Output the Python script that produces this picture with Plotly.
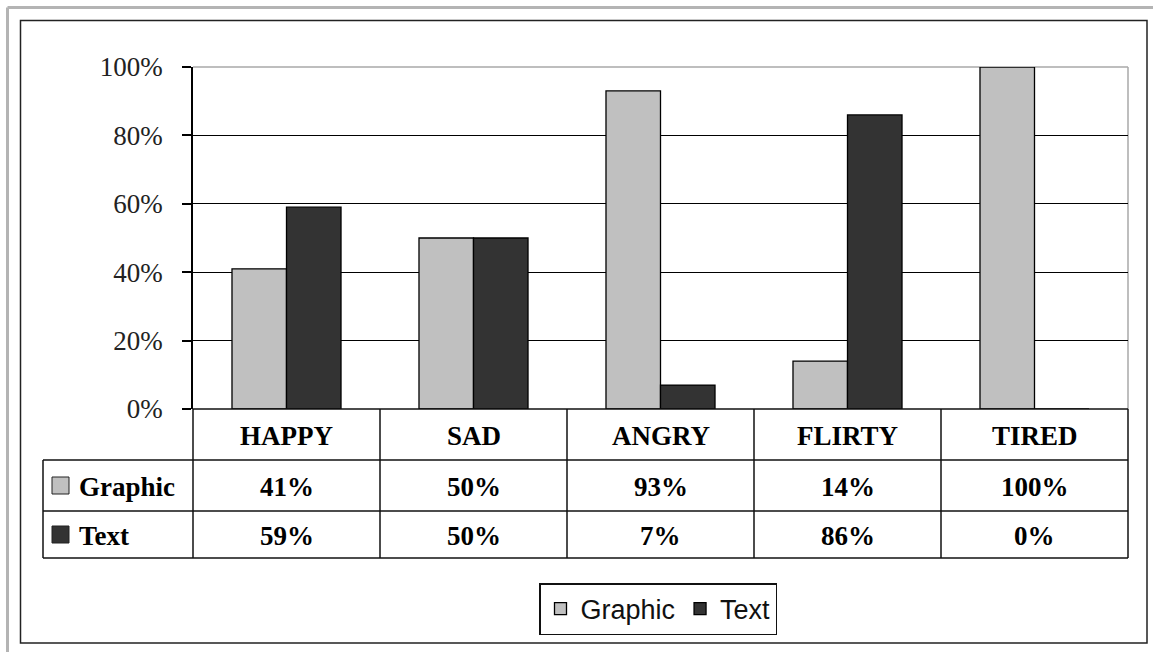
import plotly.graph_objects as go

categories = ["HAPPY", "SAD", "ANGRY", "FLIRTY", "TIRED"]
graphic = [0.41, 0.50, 0.93, 0.14, 1.00]
text_vals = [0.59, 0.50, 0.07, 0.86, 0.00]
series_names = ["Graphic", "Text"]
series_colors = ["#c0c0c0", "#333333"]
tick_vals = [0, 0.2, 0.4, 0.6, 0.8, 1.0]

W, H = 1153, 652
L, R, T, B = 193, 1128, 67, 409
pw, ph = R - L, B - T

def px(x):
    return (x - L) / pw

def py(y):
    return (B - y) / ph

fig = go.Figure()
for name, vals, col in zip(series_names, [graphic, text_vals], series_colors):
    fig.add_trace(go.Bar(
        x=categories, y=vals, name=name,
        marker=dict(color=col, line=dict(color="#000000", width=1.3)),
    ))

shapes = []
# outer grey border (top, left)
shapes.append(dict(type="line", xref="paper", yref="paper", x0=px(7.5), x1=px(1153), y0=py(7.5), y1=py(7.5),
                   line=dict(color="#b4b4b4", width=3)))
shapes.append(dict(type="line", xref="paper", yref="paper", x0=px(7.5), x1=px(7.5), y0=py(7.5), y1=py(652),
                   line=dict(color="#b4b4b4", width=3)))
# inner black frame
shapes.append(dict(type="rect", xref="paper", yref="paper", x0=px(20.5), x1=px(1147), y0=py(20.5), y1=py(643),
                   line=dict(color="#222222", width=1.5)))
# plot area grey top and right border
shapes.append(dict(type="line", xref="paper", yref="paper", x0=0, x1=1, y0=1, y1=1, layer="between",
                   line=dict(color="#a8a8a8", width=1.5)))
shapes.append(dict(type="line", xref="paper", yref="paper", x0=1, x1=1, y0=0, y1=1, layer="between",
                   line=dict(color="#a8a8a8", width=1.5)))

# data table lines
row_y = [409, 460, 511, 558]
tl = 43
lc = dict(color="#111111", width=1.5)
shapes.append(dict(type="line", xref="paper", yref="paper", x0=0, x1=1, y0=py(409), y1=py(409), line=lc))
for yy in row_y[1:]:
    shapes.append(dict(type="line", xref="paper", yref="paper", x0=px(tl), x1=1, y0=py(yy), y1=py(yy), line=lc))
n = len(categories)
for i in range(n + 1):
    xx = i / n
    shapes.append(dict(type="line", xref="paper", yref="paper", x0=xx, x1=xx, y0=py(409), y1=py(558), line=lc))
shapes.append(dict(type="line", xref="paper", yref="paper", x0=px(tl), x1=px(tl), y0=py(460), y1=py(558), line=lc))

annotations = []
serif = "Liberation Serif"
fs = 27
for i, c in enumerate(categories):
    annotations.append(dict(x=c, xref="x", y=py(436), yref="paper", text=f"<b>{c}</b>", showarrow=False,
                            font=dict(family=serif, size=fs, color="#000"), xanchor="center", yanchor="middle"))
for r, (name, vals, col) in enumerate(zip(series_names, [graphic, text_vals], series_colors)):
    yc = (row_y[r + 1] + row_y[r + 2]) / 2
    for c, v in zip(categories, vals):
        annotations.append(dict(x=c, xref="x", y=py(yc + 1), yref="paper", text=f"<b>{round(v * 100)}%</b>",
                                showarrow=False, font=dict(family=serif, size=fs, color="#000"),
                                xanchor="center", yanchor="middle"))
    shapes.append(dict(type="rect", xref="paper", yref="paper", x0=px(52), x1=px(69), y0=py(yc - 8.5), y1=py(yc + 8.5),
                       fillcolor=col, line=dict(color="#222", width=1)))
    annotations.append(dict(x=px(77), xref="paper", y=py(yc + 1), yref="paper", text=f"<b>{name}</b>", showarrow=False,
                            font=dict(family=serif, size=fs, color="#000"), xanchor="left", yanchor="middle"))

fig.update_layout(
    width=W, height=H,
    margin=dict(l=L, r=W - R, t=T, b=H - B, autoexpand=False),
    paper_bgcolor="white", plot_bgcolor="white",
    barmode="group", bargap=0.417, bargroupgap=0,
    showlegend=True,
    legend=dict(orientation="h", x=px(658), xanchor="center", y=py(583), yanchor="top",
                bordercolor="#111", borderwidth=1.5, font=dict(family="Liberation Sans", size=27, color="#111"),
                itemwidth=30, tracegroupgap=0),
    xaxis=dict(showticklabels=False, showgrid=False, zeroline=False, showline=False, ticks=""),
    yaxis=dict(range=[0, 1], tickvals=tick_vals, tickformat=".0%", showgrid=True, gridcolor="#000",
               gridwidth=1.3, zeroline=False, showline=True, linecolor="#000", linewidth=1.5,
               ticks="outside", ticklen=9, tickcolor="#000", tickwidth=1.5, ticklabelstandoff=14,
               tickfont=dict(family=serif, size=27, color="#222")),
    shapes=shapes, annotations=annotations,
)

fig.write_html("out.html", config={"displayModeBar": False},
               post_script="document.body.style.margin='0';document.body.style.overflow='hidden';")
